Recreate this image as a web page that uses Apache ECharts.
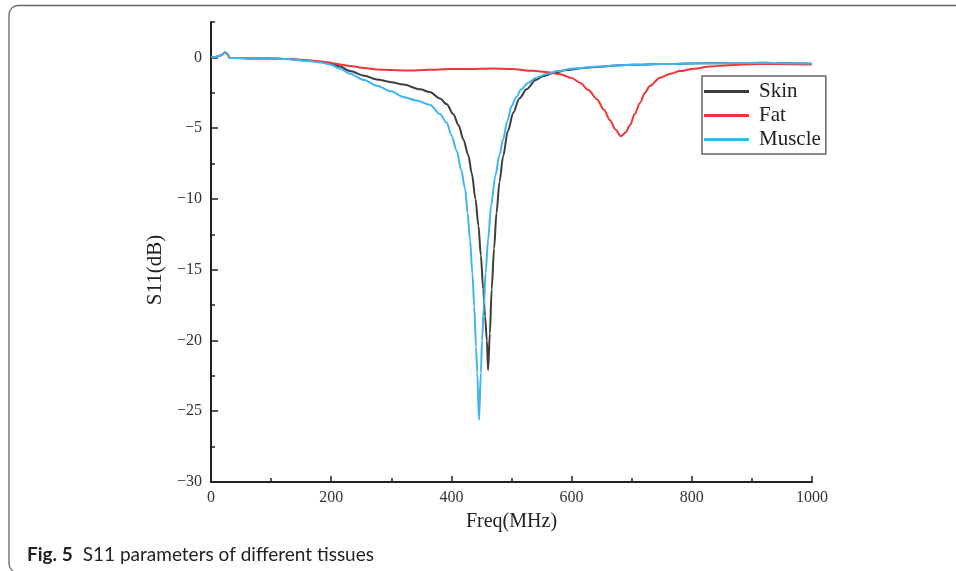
<!DOCTYPE html>
<html>
<head>
<meta charset="utf-8">
<script src="https://cdn.jsdelivr.net/npm/echarts@6/dist/echarts.min.js"></script>
<style>
html,body{margin:0;padding:0;background:#fff;}
#c{width:956px;height:571px;}
</style>
</head>
<body>
<div id="c"></div>
<script>
// ---- data (frequency MHz, S11 dB) ----
const seriesNames = ['Skin', 'Fat', 'Muscle'];
const xTicks = [0, 200, 400, 600, 800, 1000];
const yTicks = [-30, -25, -20, -15, -10, -5, 0];

const skinData = [
  [0,0],[10,0.05],[17,0.15],[23,0.35],[27,0.25],[31,-0.05],[45,-0.05],[70,-0.08],[100,-0.07],
  [130,-0.12],[160,-0.22],[180,-0.3],[198,-0.4],[215,-0.65],[231,-0.97],[255,-1.3],[276,-1.56],
  [300,-1.75],[320,-1.92],[348,-2.26],[364,-2.45],[381,-2.9],[392,-3.3],[403,-4.0],[412,-4.8],
  [420,-5.8],[428,-6.9],[434,-8.2],[440,-10],[445,-11.9],[449,-14],[453,-16.4],[456,-18.3],
  [459,-20.0],[461,-22.1],[464,-19.5],[467,-16.4],[471,-13.5],[475,-11],[480,-8.8],[486,-7],
  [494,-5.2],[503,-3.9],[513,-2.9],[525,-2.26],[540,-1.6],[553,-1.32],[570,-1.1],[592,-0.9],
  [620,-0.75],[647,-0.66],[680,-0.56],[702,-0.52],[750,-0.47],[814,-0.42],[870,-0.4],[920,-0.38],
  [960,-0.42],[1000,-0.45]
];

const fatData = [
  [0,0],[10,0.05],[17,0.15],[23,0.35],[27,0.25],[31,-0.05],[45,-0.05],[70,-0.08],[100,-0.07],
  [130,-0.12],[160,-0.2],[180,-0.28],[198,-0.38],[215,-0.5],[231,-0.61],[255,-0.75],[276,-0.85],
  [300,-0.9],[320,-0.92],[340,-0.92],[364,-0.88],[398,-0.82],[430,-0.82],[470,-0.78],[500,-0.82],
  [536,-0.95],[560,-1.05],[581,-1.2],[600,-1.45],[614,-1.79],[628,-2.3],[642,-2.95],[654,-3.7],
  [664,-4.45],[673,-5.1],[682,-5.57],[690,-5.3],[697,-4.8],[705,-4.0],[714,-3.2],[722,-2.5],
  [730,-2.03],[747,-1.44],[765,-1.15],[780,-0.97],[803,-0.8],[830,-0.65],[860,-0.55],[913,-0.47],
  [960,-0.48],[1000,-0.5]
];

const muscleData = [
  [0,0],[10,0.05],[17,0.15],[23,0.35],[27,0.25],[31,-0.05],[45,-0.05],[70,-0.08],[100,-0.07],
  [130,-0.14],[160,-0.25],[180,-0.35],[198,-0.5],[215,-0.8],[231,-1.15],[255,-1.6],[276,-2.0],
  [300,-2.4],[320,-2.8],[342,-3.05],[364,-3.35],[381,-4.0],[392,-4.6],[400,-5.5],[409,-6.6],
  [416,-7.9],[423,-9.3],[427,-11],[431,-12.9],[435,-15.3],[438,-17.6],[441,-20.5],[443,-22.3],
  [446,-25.6],[449,-22.3],[451,-20],[454,-17.6],[457,-15.2],[461,-12.9],[466,-10.5],[473,-8.4],
  [480,-6.9],[486,-5.8],[493,-4.5],[500,-3.44],[508,-2.8],[516,-2.26],[528,-1.8],[541,-1.44],
  [560,-1.15],[576,-0.97],[600,-0.8],[647,-0.64],[702,-0.52],[750,-0.47],[814,-0.42],[870,-0.4],
  [920,-0.38],[960,-0.42],[1000,-0.45]
];

const colors = ['#3d3d3d', '#ee3636', '#3db5f2'];
const serif = '"Liberation Serif", "DejaVu Serif", serif';
const fmt = v => String(v).replace('-', '\u2212');

const chart = echarts.init(document.getElementById('c'), null, {renderer: 'canvas'});
const datasets = [skinData, fatData, muscleData];

chart.setOption({
  animation: false,
  backgroundColor: '#fff',
  title: {
    left: 22, top: 540,
    text: '{b|Fig. 5}  {n|S11 parameters of different tissues}',
    textStyle: {
      rich: {
        b: {fontFamily: 'Lato, "Open Sans", sans-serif', fontWeight: 'bold', fontSize: 19, color: '#222'},
        n: {fontFamily: 'Lato, "Open Sans", sans-serif', fontWeight: 'normal', fontSize: 19, color: '#222'}
      }
    }
  },
  graphic: [{
    type: 'rect',
    shape: {x: 9, y: 5.5, width: 1100, height: 567, r: [9, 0, 0, 9]},
    style: {fill: 'none', stroke: '#666', lineWidth: 1.3},
    silent: true, z: -1
  }],
  grid: {left: 211, right: 144, top: 22, bottom: 89},
  legend: {
    orient: 'vertical',
    left: 702, top: 76,
    padding: [5, 5, 4, 2],
    borderColor: '#666', borderWidth: 1.5,
    icon: 'rect',
    itemWidth: 45, itemHeight: 3, itemGap: 3,
    textStyle: {fontFamily: serif, fontSize: 21, color: '#222', lineHeight: 20, padding: [0, 0, 0, 5]},
    data: seriesNames
  },
  xAxis: {
    type: 'value', min: 0, max: 1000, interval: 200,
    name: 'Freq(MHz)', nameLocation: 'middle', nameGap: 30,
    nameTextStyle: {fontFamily: serif, fontSize: 20, color: '#222'},
    axisLine: {onZero: false, lineStyle: {color: '#222', width: 2}},
    axisTick: {inside: true, length: 6, lineStyle: {color: '#222', width: 1.5}},
    minorTick: {show: true, splitNumber: 2, length: 4, lineStyle: {color: '#222', width: 1.5}},
    axisLabel: {fontFamily: serif, fontSize: 16, color: '#333', margin: 8, formatter: fmt, customValues: xTicks},
    splitLine: {show: false}
  },
  yAxis: [{
    type: 'value', min: -30, max: 2.5, interval: 5,
    name: 'S11(dB)', nameLocation: 'middle', nameGap: 36,
    nameTextStyle: {fontFamily: serif, fontSize: 21, color: '#222', padding: [0, 36, 0, 0]},
    axisLine: {onZero: false, lineStyle: {color: '#222', width: 2}},
    axisTick: {inside: true, length: 7, lineStyle: {color: '#222', width: 1.5}, customValues: yTicks},
    axisLabel: {fontFamily: serif, fontSize: 16, color: '#333', margin: 9, formatter: fmt, customValues: yTicks},
    splitLine: {show: false}
  }, {
    type: 'value', min: -30, max: 2.5, interval: 2.5, position: 'left',
    axisLine: {show: false, onZero: false},
    axisTick: {inside: true, length: 4, lineStyle: {color: '#222', width: 1.5}},
    axisLabel: {show: false},
    splitLine: {show: false}
  }],
  series: seriesNames.map((n, i) => ({
    name: n, type: 'line', data: datasets[i],
    xAxisIndex: 0, yAxisIndex: 0,
    showSymbol: false, symbol: 'none',
    smooth: 0.3, smoothMonotone: 'x',
    lineStyle: {color: colors[i], width: 2},
    itemStyle: {color: colors[i]}
  }))
});
</script>
</body>
</html>
